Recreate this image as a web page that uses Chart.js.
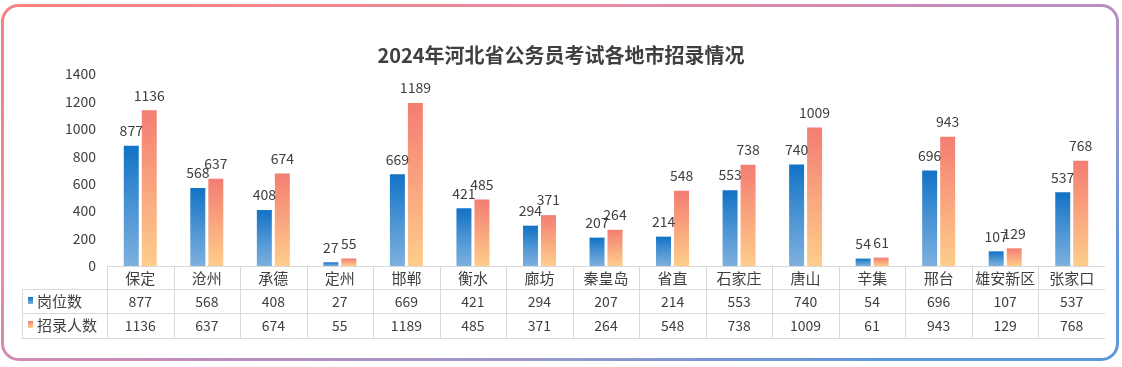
<!DOCTYPE html>
<html>
<head>
<meta charset="utf-8">
<script src="https://cdn.jsdelivr.net/npm/chart.js@4.4.1/dist/chart.umd.min.js"></script>
<style>
  html, body { margin: 0; padding: 0; background: #fff; }
  #wrap { width: 1122px; height: 367px; position: relative; }
</style>
</head>
<body>
<div id="wrap"><canvas id="chart"></canvas></div>
<script>
'use strict';

var cities = ['保定', '沧州', '承德', '定州', '邯郸', '衡水', '廊坊', '秦皇岛', '省直', '石家庄', '唐山', '辛集', '邢台', '雄安新区', '张家口'];
var posts = [877, 568, 408, 27, 669, 421, 294, 207, 214, 553, 740, 54, 696, 107, 537];
var hires = [1136, 637, 674, 55, 1189, 485, 371, 264, 548, 738, 1009, 61, 943, 129, 768];
var seriesNames = ['岗位数', '招录人数'];
var yTicks = [0, 200, 400, 600, 800, 1000, 1200, 1400];
var title = '2024年河北省公务员考试各地市招录情况';

var FONT = '"Noto Sans CJK SC", "Microsoft YaHei", sans-serif';

function blueGrad(ctx, top, bottom) {
  var g = ctx.createLinearGradient(0, top, 0, bottom);
  g.addColorStop(0, '#1272C5');
  g.addColorStop(0.5, '#4A93D3');
  g.addColorStop(1, '#7DB0DE');
  return g;
}
function orangeGrad(ctx, top, bottom) {
  var g = ctx.createLinearGradient(0, top, 0, bottom);
  g.addColorStop(0, '#F47D72');
  g.addColorStop(1, '#FECD8B');
  return g;
}

function barFill(kind) {
  return function(c) {
    var chart = c.chart;
    var area = chart.chartArea;
    var ys = chart.scales.y;
    if (!area || !ys || c.raw === undefined) return kind === 'blue' ? '#3C8AD0' : '#F8A07E';
    var top = ys.getPixelForValue(c.raw);
    var bottom = area.bottom;
    if (bottom - top < 1) top = bottom - 1;
    return kind === 'blue' ? blueGrad(chart.ctx, top, bottom) : orangeGrad(chart.ctx, top, bottom);
  };
}

var extras = {
  id: 'extras',
  afterDatasetsDraw: function(chart) {
    var ctx = chart.ctx;
    ctx.save();
    ctx.font = '14px ' + FONT;
    ctx.fillStyle = '#404040';
    ctx.textAlign = 'center';
    ctx.textBaseline = 'middle';
    chart.data.datasets.forEach(function(ds, di) {
      var meta = chart.getDatasetMeta(di);
      meta.data.forEach(function(bar, i) {
        ctx.fillText(String(ds.data[i]), bar.x, bar.y - 15);
      });
    });
    ctx.restore();
  },
  afterDraw: function(chart) {
    var ctx = chart.ctx;
    var area = chart.chartArea;
    var xs = chart.scales.x;
    var n = cities.length;
    var step = (area.right - area.left) / n;
    var left = area.left, right = area.right;
    var rowY = [area.bottom, 289, 313, 338];
    var legendLeft = 22;

    ctx.save();
    // title
    ctx.font = 'bold 20px ' + FONT;
    ctx.fillStyle = '#404040';
    ctx.textAlign = 'center';
    ctx.textBaseline = 'middle';
    ctx.fillText(title, 561, 55);

    // table lines
    ctx.strokeStyle = '#D9D9D9';
    ctx.lineWidth = 1;
    ctx.beginPath();
    ctx.moveTo(left, rowY[0] + 0.5);
    ctx.lineTo(right, rowY[0] + 0.5);
    for (var r = 1; r < 4; r++) {
      ctx.moveTo(legendLeft, rowY[r] + 0.5);
      ctx.lineTo(right, rowY[r] + 0.5);
    }
    ctx.moveTo(legendLeft + 0.5, rowY[1]);
    ctx.lineTo(legendLeft + 0.5, rowY[3]);
    for (var k = 0; k < n; k++) {
      var x = Math.round(left + k * step) + 0.5;
      ctx.moveTo(x, rowY[0]);
      ctx.lineTo(x, rowY[3]);
    }
    ctx.stroke();

    // table text
    ctx.fillStyle = '#404040';
    ctx.textAlign = 'center';
    for (var i = 0; i < n; i++) {
      var cx = xs.getPixelForValue(i);
      ctx.font = '15px ' + FONT;
      ctx.fillText(cities[i], cx, 278);
      ctx.font = '14px ' + FONT;
      ctx.fillText(String(posts[i]), cx, 302);
      ctx.fillText(String(hires[i]), cx, 326);
    }

    // legend keys
    ctx.textAlign = 'left';
    ctx.font = '15px ' + FONT;
    ctx.fillStyle = blueGrad(ctx, 297, 304);
    ctx.fillRect(28, 297, 5, 7);
    ctx.fillStyle = orangeGrad(ctx, 321, 328);
    ctx.fillRect(28, 321, 5, 7);
    ctx.fillStyle = '#404040';
    ctx.fillText(seriesNames[0], 37, 301);
    ctx.fillText(seriesNames[1], 37, 325);

    // rounded gradient frame
    var g = ctx.createLinearGradient(0, 0, 264, 622);
    g.addColorStop(0, '#F4837A');
    g.addColorStop(0.35, '#EC8AA2');
    g.addColorStop(0.55, '#C98AB8');
    g.addColorStop(0.8, '#9A98CC');
    g.addColorStop(1, '#5E97DC');
    ctx.strokeStyle = g;
    ctx.lineWidth = 3;
    ctx.beginPath();
    ctx.roundRect(2.5, 5.5, 1115, 354, 16);
    ctx.stroke();
    ctx.restore();
  }
};

var ctx = document.getElementById('chart').getContext('2d');
new Chart(ctx, {
  type: 'bar',
  data: {
    labels: cities,
    datasets: [
      { label: seriesNames[0], data: posts, backgroundColor: barFill('blue'),
        categoryPercentage: 0.541, barPercentage: 0.833 },
      { label: seriesNames[1], data: hires, backgroundColor: barFill('orange'),
        categoryPercentage: 0.541, barPercentage: 0.833 }
    ]
  },
  options: {
    responsive: true,
    maintainAspectRatio: false,
    animation: false,
    layout: { padding: { top: 74, bottom: 101, left: 0, right: 17 } },
    plugins: {
      legend: { display: false },
      tooltip: { enabled: false },
      title: { display: false }
    },
    scales: {
      x: { display: false },
      y: {
        min: 0,
        max: 1400,
        afterFit: function(scale) { scale.width = 107; },
        afterBuildTicks: function(scale) {
          scale.ticks = yTicks.map(function(v) { return { value: v }; });
        },
        grid: { display: false, drawTicks: false },
        border: { display: false },
        ticks: {
          padding: 11,
          color: '#404040',
          font: { family: FONT, size: 14 },
          callback: function(v) { return String(v); }
        }
      }
    }
  },
  plugins: [extras]
});
</script>
</body>
</html>
